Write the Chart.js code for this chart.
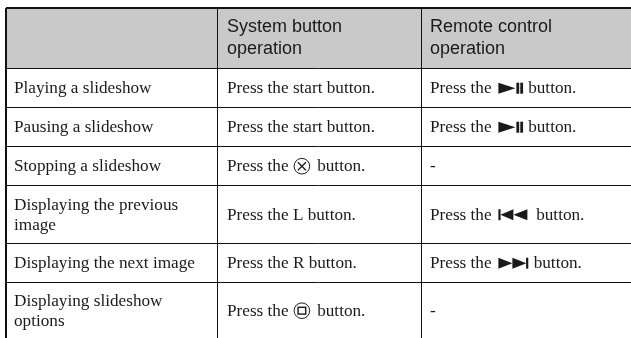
<!DOCTYPE html>
<html lang="en">
<head>
  <meta charset="UTF-8" />
  <title>Slideshow controls</title>
  <script src="https://cdn.jsdelivr.net/npm/chart.js"></script>
  <style>
    body { margin: 0; background: #fff; }
    canvas { display: block; filter: blur(0.3px); }
  </style>
</head>
<body>
<canvas id="tableChart" width="631" height="338"></canvas>

<script>
const columnTicks = [6, 217, 421];
const rowTicks = [8, 68, 107, 146, 185, 243, 282];

const tableHeaders = ["", "System button\noperation", "Remote control\noperation"];
const rowLabels = [
  "Playing a slideshow",
  "Pausing a slideshow",
  "Stopping a slideshow",
  "Displaying the previous\nimage",
  "Displaying the next image",
  "Displaying slideshow\noptions"
];
const systemOps = [
  "Press the start button.",
  "Press the start button.",
  "Press the [cross] button.",
  "Press the L button.",
  "Press the R button.",
  "Press the [square] button."
];
const remoteOps = [
  "Press the [play] button.",
  "Press the [play] button.",
  "-",
  "Press the [prev] button.",
  "Press the [next] button.",
  "-"
];

const HEADER_FONT = '18px "Liberation Sans"';
const BODY_FONT = '17.2px "Liberation Serif"';
const INK = "#1a1a1a";

function triangle(ctx, x1, x2, y, h) {
  ctx.beginPath();
  ctx.moveTo(x1, y - h);
  ctx.lineTo(x2, y);
  ctx.lineTo(x1, y + h);
  ctx.closePath();
  ctx.fill();
}

// remote and pad symbols, each returns the width it took
const icons = {
  play(ctx, x, y) {
    triangle(ctx, x + 2.5, x + 19.5, y, 5.5);
    ctx.fillRect(x + 20.5, y - 5.5, 2.8, 11);
    ctx.fillRect(x + 24.4, y - 5.5, 2.8, 11);
    return 28;
  },
  prev(ctx, x, y) {
    ctx.fillRect(x + 2.5, y - 5.5, 2.2, 11);
    triangle(ctx, x + 17.5, x + 4.5, y, 5.5);
    triangle(ctx, x + 31.5, x + 17.5, y, 5.5);
    return 36;
  },
  next(ctx, x, y) {
    triangle(ctx, x + 2.5, x + 16.5, y, 5.5);
    triangle(ctx, x + 16.5, x + 30.5, y, 5.5);
    ctx.fillRect(x + 30.2, y - 5.5, 2.2, 11);
    return 33.5;
  },
  cross(ctx, x, y) {
    ring(ctx, x, y);
    ctx.beginPath();
    ctx.moveTo(x + 5, y - 4);
    ctx.lineTo(x + 13, y + 4);
    ctx.moveTo(x + 13, y - 4);
    ctx.lineTo(x + 5, y + 4);
    ctx.lineWidth = 1.3;
    ctx.stroke();
    return 20;
  },
  square(ctx, x, y) {
    ring(ctx, x, y);
    ctx.lineWidth = 1.4;
    ctx.strokeRect(x + 5.2, y - 3.4, 7.6, 6.8);
    return 20;
  }
};

function ring(ctx, x, y) {
  ctx.beginPath();
  ctx.arc(x + 9, y, 7.8, 0, Math.PI * 2);
  ctx.lineWidth = 1;
  ctx.stroke();
}

function drawLine(ctx, text, x, baseline) {
  text.split(/(\[\w+\])/).forEach(part => {
    const icon = part.match(/^\[(\w+)\]$/);
    if (icon) {
      x += icons[icon[1]](ctx, x, baseline - 5);
    } else {
      ctx.fillText(part, x, baseline);
      x += ctx.measureText(part).width;
    }
  });
}

function drawCell(ctx, text, x, yTop, yBottom, lineGap, shift) {
  const lines = text.split("\n");
  const mid = (yTop + yBottom) / 2;
  lines.forEach((line, i) => {
    const baseline = mid + shift + (i - (lines.length - 1) / 2) * lineGap;
    drawLine(ctx, line, x, baseline);
  });
}

const tableCells = {
  id: "tableCells",
  afterDatasetsDraw(chart) {
    const { ctx, scales } = chart;
    const cols = [rowLabels, systemOps, remoteOps];
    const colX = i => scales.x.getPixelForValue(columnTicks[i]) + [8, 10, 9][i];
    const rowY = i => scales.y.getPixelForValue(rowTicks[i]);
    const rowBottom = i => i + 1 < rowTicks.length ? rowY(i + 1) : scales.y.getPixelForValue(338);

    ctx.save();
    ctx.textBaseline = "alphabetic";
    ctx.fillStyle = INK;
    ctx.strokeStyle = INK;

    ctx.font = HEADER_FONT;
    tableHeaders.forEach((h, i) => {
      if (h) drawCell(ctx, h, colX(i), rowY(0), rowY(1), 22.5, 5);
    });

    ctx.font = BODY_FONT;
    cols.forEach((col, c) => {
      col.forEach((text, r) => {
        drawCell(ctx, text, colX(c), rowY(r + 1), rowBottom(r + 1), 20, 5.7);
      });
    });
    ctx.restore();
  }
};

new Chart(document.getElementById("tableChart"), {
  type: "line",
  data: {
    datasets: [{
      // grey header band
      data: [{ x: columnTicks[0], y: rowTicks[1] }, { x: 631, y: rowTicks[1] }],
      fill: { value: rowTicks[0] },
      backgroundColor: "#c9c9c9",
      borderWidth: 0,
      pointRadius: 0
    }]
  },
  options: {
    responsive: false,
    animation: false,
    layout: { padding: { left: 6, top: 8 } },
    plugins: { legend: { display: false }, tooltip: { enabled: false } },
    scales: {
      x: {
        type: "linear",
        min: 6,
        max: 631,
        afterBuildTicks: axis => { axis.ticks = columnTicks.map(value => ({ value })); },
        ticks: { display: false },
        border: { display: false },
        grid: {
          z: 1,
          color: "#111",
          drawTicks: false,
          lineWidth: ctx => ctx.index === 0 ? 2 : 1
        }
      },
      y: {
        type: "linear",
        reverse: true,
        min: 8,
        max: 338,
        afterBuildTicks: axis => { axis.ticks = rowTicks.map(value => ({ value })); },
        ticks: { display: false },
        border: { display: false },
        grid: {
          z: 1,
          color: "#111",
          drawTicks: false,
          lineWidth: ctx => ctx.index === 0 ? 2 : 1
        }
      }
    }
  },
  plugins: [tableCells]
});
</script>
</body>
</html>
